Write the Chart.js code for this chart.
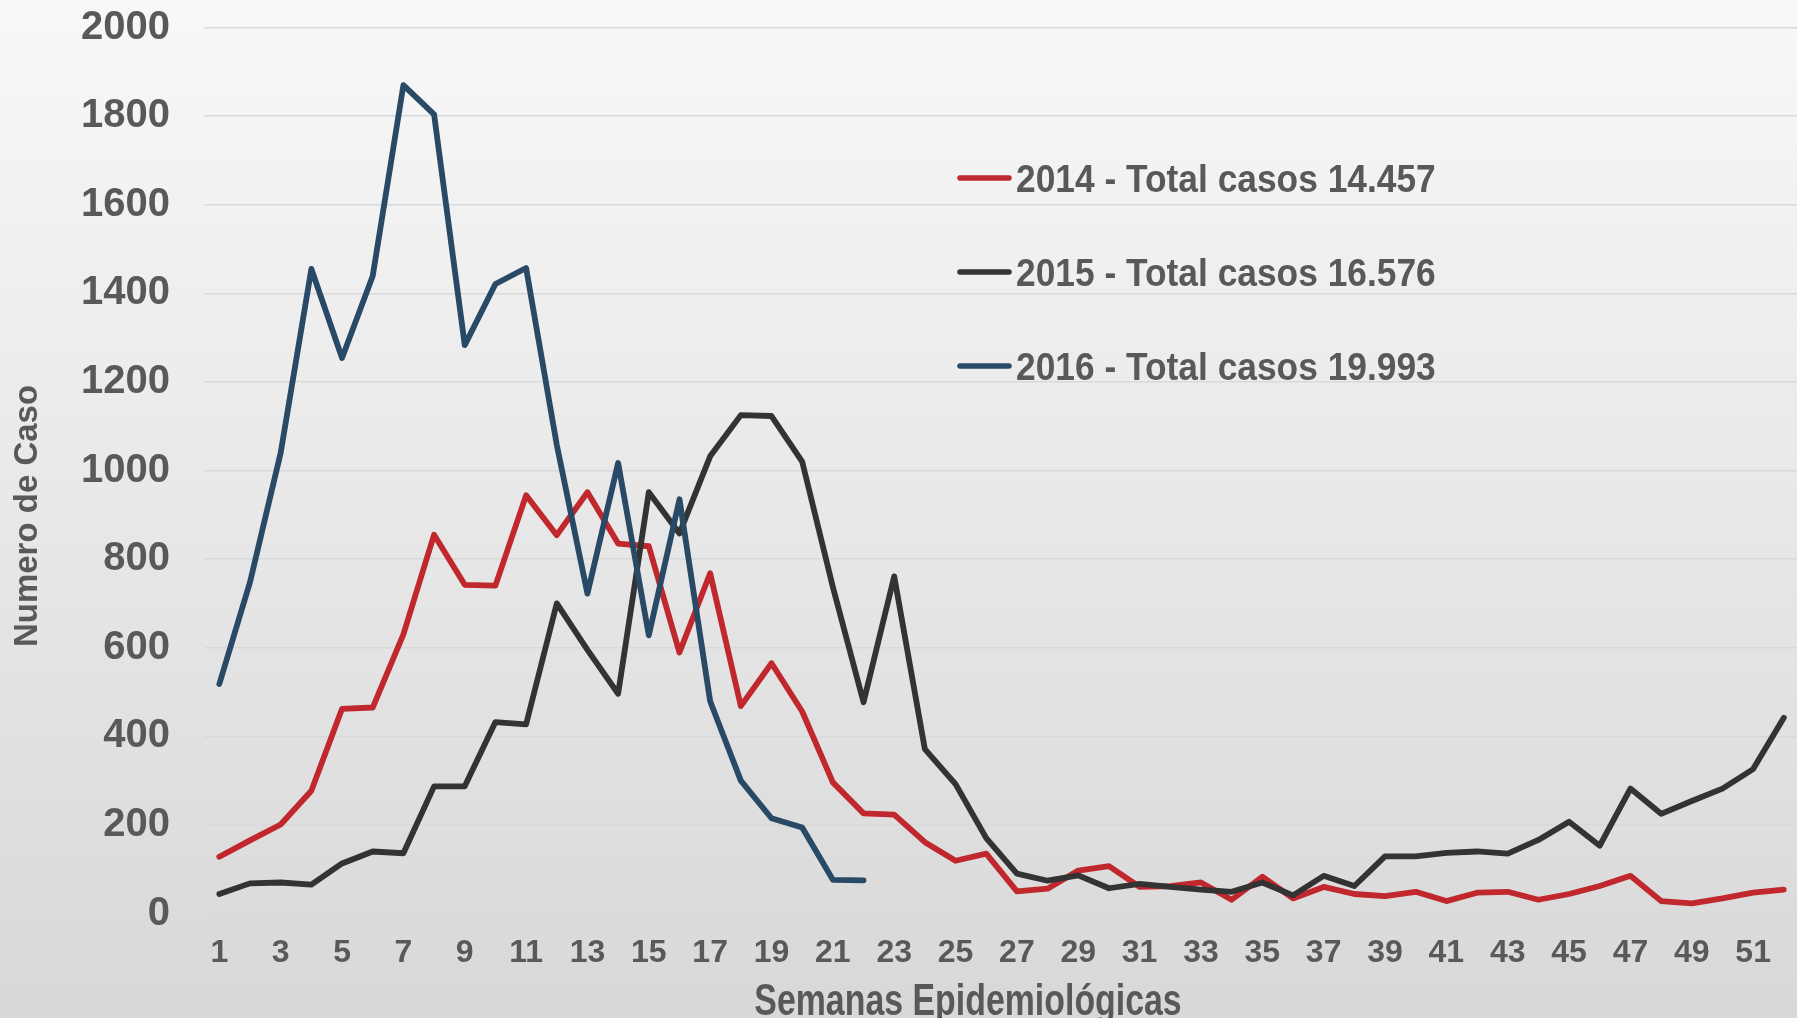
<!DOCTYPE html>
<html>
<head>
<meta charset="utf-8">
<script src="https://cdn.jsdelivr.net/npm/chart.js@4/dist/chart.umd.min.js"></script>
<style>
  html, body { margin: 0; padding: 0; background: #f4f4f4; }
  #wrap { width: 1797px; height: 1018px; }
</style>
</head>
<body>
<div id="wrap"><canvas id="chart" width="1797" height="1018"></canvas></div>
<script>
// Weeks and the odd-week tick labels
const weeks = [1,2,3,4,5,6,7,8,9,10,11,12,13,14,15,16,17,18,19,20,21,22,23,24,25,26,
               27,28,29,30,31,32,33,34,35,36,37,38,39,40,41,42,43,44,45,46,47,48,49,50,51,52];
const weekTicks = [1,3,5,7,9,11,13,15,17,19,21,23,25,27,29,31,33,35,37,39,41,43,45,47,49,51];

// Cases per epidemiological week
const cases2014 = [128,165,201,277,462,465,630,855,742,740,944,854,951,835,829,589,768,468,565,456,296,226,
                   223,161,119,135,50,56,97,107,60,62,70,31,83,34,60,44,39,49,28,47,49,31,44,62,85,28,23,34,47,54];
const cases2015 = [44,68,70,65,113,140,136,287,287,432,427,700,595,496,951,858,1032,1125,1123,1020,737,477,
                   761,371,292,170,90,74,86,57,67,60,54,49,70,41,85,62,129,129,137,140,135,166,207,153,282,225,254,282,326,442];
const cases2016 = [518,748,1040,1455,1254,1439,1870,1804,1283,1421,1457,1058,722,1017,628,935,479,300,215,194,76,75];

const seriesLabels = ["2014 - Total casos 14.457", "2015 - Total casos 16.576", "2016 - Total casos 19.993"];
const seriesColors = ["#c0282e", "#333333", "#284a66"];

const yTicks = [0,200,400,600,800,1000,1200,1400,1600,1800,2000];

const textColor = "#595959";

function toPoints(values) {
    return values.map((v, i) => ({ x: weeks[i], y: v }));
}

// draw text squeezed horizontally (the original uses a condensed face)
function condensedText(ctx, text, x, y, squeeze) {
    ctx.save();
    ctx.translate(x, y);
    ctx.scale(squeeze, 1);
    ctx.fillText(text, 0, 0);
    ctx.restore();
}

// Background gradient, legend and axis titles
const decorations = {
    id: "decorations",
    beforeDraw(chart) {
        const ctx = chart.ctx;
        const g = ctx.createLinearGradient(0, 0, 0, chart.height);
        g.addColorStop(0, "#f8f8f8");
        g.addColorStop(1, "#d8d8d8");
        ctx.save();
        ctx.fillStyle = g;
        ctx.fillRect(0, 0, chart.width, chart.height);
        ctx.restore();
    },
    afterDraw(chart) {
        const ctx = chart.ctx;
        ctx.save();

        // legend inside the plot
        const legendY = [178, 272, 366];
        chart.data.datasets.forEach((ds, i) => {
            const y = legendY[i];
            ctx.strokeStyle = ds.borderColor;
            ctx.lineWidth = 5.5;
            ctx.lineCap = "round";
            ctx.beginPath();
            ctx.moveTo(960, y);
            ctx.lineTo(1009, y);
            ctx.stroke();
            ctx.fillStyle = textColor;
            ctx.font = "bold 38px 'Liberation Sans', sans-serif";
            ctx.textAlign = "left";
            ctx.textBaseline = "alphabetic";
            condensedText(ctx, ds.label, 1016, y + 14, 0.93);
        });

        // y axis title
        ctx.fillStyle = textColor;
        ctx.font = "bold 33px 'Liberation Sans', sans-serif";
        ctx.translate(28, 516);
        ctx.rotate(-Math.PI / 2);
        ctx.textAlign = "center";
        ctx.textBaseline = "middle";
        ctx.fillText("Numero de Caso", 0, 0);
        ctx.setTransform(1, 0, 0, 1, 0, 0);

        // x axis title
        ctx.font = "bold 44px 'Liberation Sans', sans-serif";
        ctx.textAlign = "center";
        ctx.textBaseline = "alphabetic";
        condensedText(ctx, "Semanas Epidemiológicas", 968, 1015, 0.77);
        ctx.restore();
    }
};

const ctx = document.getElementById("chart").getContext("2d");

new Chart(ctx, {
    type: "line",
    data: {
        datasets: [
            { label: seriesLabels[0], data: toPoints(cases2014), borderColor: seriesColors[0], order: 2 },
            { label: seriesLabels[1], data: toPoints(cases2015), borderColor: seriesColors[1], order: 1 },
            { label: seriesLabels[2], data: toPoints(cases2016), borderColor: seriesColors[2], order: 0 }
        ].map(ds => Object.assign(ds, {
            borderWidth: 5.8,
            pointRadius: 0,
            tension: 0,
            fill: false,
            borderCapStyle: "round",
            borderJoinStyle: "round"
        }))
    },
    options: {
        responsive: false,
        animation: false,
        layout: { autoPadding: false, padding: { top: 27.5, left: 0, right: 0, bottom: 0 } },
        plugins: {
            legend: { display: false },
            tooltip: { enabled: false }
        },
        scales: {
            x: {
                type: "linear",
                min: 0.5,
                max: 52.43,
                afterFit(scale) { scale.height = 104.5; },
                afterBuildTicks(scale) { scale.ticks = weekTicks.map(v => ({ value: v })); },
                grid: { display: false, drawTicks: false },
                border: { display: false },
                ticks: {
                    autoSkip: false,
                    maxRotation: 0,
                    padding: 20,
                    color: textColor,
                    font: { family: "'Liberation Sans', sans-serif", size: 32, weight: "bold" },
                    callback: v => String(v)
                }
            },
            y: {
                min: 0,
                max: 2000,
                afterFit(scale) {
                    scale.width = 204;
                    // keep the top gridline where the original has it
                    scale.paddingTop = 0;
                    scale.paddingBottom = 0;
                },
                afterBuildTicks(scale) { scale.ticks = yTicks.map(v => ({ value: v })); },
                grid: { color: "#d9d9d9", lineWidth: 1.5, drawTicks: false },
                border: { display: false },
                ticks: {
                    padding: 34,
                    color: textColor,
                    font: { family: "'Liberation Sans', sans-serif", size: 40, weight: "bold" },
                    callback: v => String(v)
                }
            }
        }
    },
    plugins: [decorations]
});
</script>
</body>
</html>
